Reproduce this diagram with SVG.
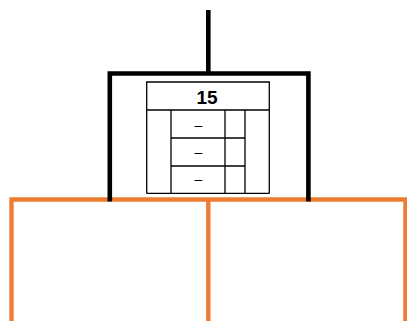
<svg xmlns="http://www.w3.org/2000/svg" width="407" height="321" viewBox="0 0 407 321">
<style>
.orange{stroke:#ED7D31;stroke-width:4.4;fill:none}
.blk{stroke:#000;stroke-width:4.6;fill:none}
.tbl{stroke:#000;stroke-width:1.3;fill:none}
.t{font-family:"Liberation Sans",Arial,sans-serif;fill:#000;text-anchor:middle}
</style>
<rect width="407" height="321" fill="#fff"/>
<g id="orange-frame">
<path class="orange" d="M11.5,321 V199.5 H407 M208.3,199.5 V321 M405.5,199.5 V321"/>
</g>
<g id="connectors">
<path class="blk" d="M208.3,10 V73.5"/>
</g>
<g id="box">
<path class="blk" d="M109.8,201.5 V73.5 H308.4 V201.5"/>
</g>
<g id="table">
<path class="tbl" d="M146.7,193.5 V82 H269.3 V193.5 M146.7,110 H269.3 M146.7,193.3 H269.3 M171,110 V193.5 M225,110 V193.5 M245,110 V193.5 M171,138 H245 M171,166 H245"/>
<text class="t" x="207" y="104" font-size="19" font-weight="bold">15</text>
<text class="t" x="198.5" y="129.6" font-size="14">–</text>
<text class="t" x="198.5" y="156.9" font-size="14">–</text>
<text class="t" x="198.5" y="183.6" font-size="14">–</text>
</g>
</svg>
